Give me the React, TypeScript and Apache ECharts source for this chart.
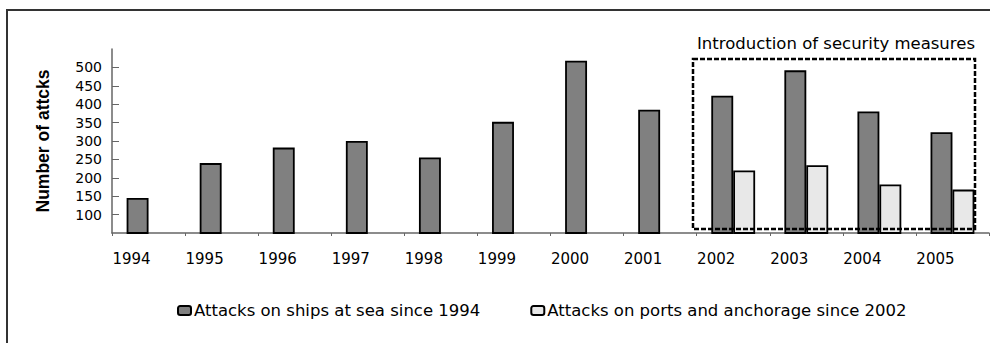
import React, { useEffect, useRef } from "react";
import * as echarts from "echarts";

const years = ["1994", "1995", "1996", "1997", "1998", "1999", "2000", "2001", "2002", "2003", "2004", "2005"];
const shipsAtSea = [145, 240, 282, 300, 255, 352, 518, 385, 423, 492, 380, 324];
const portsAnchorage = [null, null, null, null, null, null, null, null, 220, 234, 182, 168];
const seriesNames = ["Attacks on ships at sea since 1994", "Attacks on ports and anchorage since 2002"];
const yAxisTitle = "Number of attcks";
const boxLabel = "Introduction of security measures";

export default function App() {
  const ref = useRef<HTMLDivElement>(null);
  useEffect(() => {
    if (!ref.current) return;
    const chart = echarts.init(ref.current, undefined, { renderer: "svg" });
    const font = "DejaVu Sans";
    chart.setOption({
      animation: false,
      backgroundColor: "#ffffff",
      grid: { left: 112, right: 1, top: 49, bottom: 110, containLabel: false },
      legend: {
        left: 172,
        top: 297,
        itemWidth: 13,
        itemHeight: 9,
        itemGap: 50,
        textStyle: { fontFamily: font, fontSize: 16.5, color: "#000", padding: [0, 0, 0, -2] },
        data: seriesNames,
      },
      xAxis: {
        type: "category",
        data: years,
        axisLine: { lineStyle: { color: "#666", width: 1.5 } },
        axisTick: { show: true, length: 3, lineStyle: { color: "#666" } },
        axisLabel: {
          fontFamily: font,
          fontSize: 15,
          color: "#000",
          margin: 18,
          padding: [0, 34, 0, 0],
        },
      },
      yAxis: {
        type: "value",
        min: 50,
        max: 550,
        interval: 50,
        name: yAxisTitle,
        nameLocation: "middle",
        nameGap: 60,
        nameTextStyle: {
          fontFamily: "Liberation Sans",
          fontWeight: "bold",
          fontSize: 17.5,
          color: "#000",
        },
        splitLine: { show: false },
        axisLine: { show: true, lineStyle: { color: "#666", width: 1.5 } },
        axisTick: { show: true, inside: true, length: 7, lineStyle: { color: "#666" } },
        axisLabel: {
          fontFamily: font,
          fontSize: 14,
          color: "#000",
          margin: 10,
          showMinLabel: false,
          showMaxLabel: false,
        },
      },
      series: [
        {
          name: seriesNames[0],
          type: "bar",
          data: shipsAtSea,
          barGap: "0%",
          barCategoryGap: "40%",
          itemStyle: { color: "#808080", borderColor: "#000", borderWidth: 1.8 },
        },
        {
          name: seriesNames[1],
          type: "bar",
          data: portsAnchorage,
          barGap: "0%",
          barCategoryGap: "40%",
          itemStyle: { color: "#e8e8e8", borderColor: "#000", borderWidth: 1.8 },
        },
      ],
      graphic: [
        {
          type: "rect",
          shape: { x: 7, y: 10, width: 1000, height: 360 },
          style: { fill: "none", stroke: "#333", lineWidth: 2 },
          silent: true,
        },
        {
          type: "rect",
          shape: { x: 693, y: 59, width: 282, height: 170 },
          style: { fill: "none", stroke: "#000", lineWidth: 2.5, lineDash: [5, 2] },
          silent: true,
          z: 100,
        },
        {
          type: "text",
          x: 975,
          y: 43,
          style: {
            text: boxLabel,
            fontFamily: font,
            fontSize: 16.5,
            fill: "#000",
            align: "right",
            verticalAlign: "middle",
          },
        },
      ],
    });
    return () => chart.dispose();
  }, []);
  return (
    <div
      ref={ref}
      style={{ position: "absolute", left: 0, top: 0, width: 990, height: 343, background: "#fff" }}
    />
  );
}
